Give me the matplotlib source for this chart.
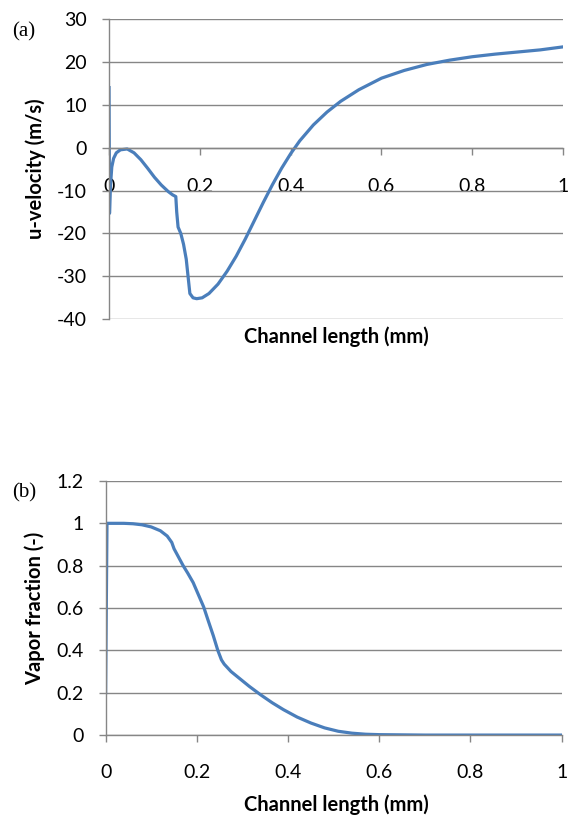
import matplotlib.pyplot as plt

plt.rcParams["axes.unicode_minus"] = False

# (a) u-velocity along channel
x_u = [0.0, 0.001, 0.003, 0.006, 0.010, 0.016, 0.025, 0.040, 0.055, 0.070,
       0.085, 0.100, 0.115, 0.130, 0.140, 0.147, 0.149, 0.152, 0.158, 0.164,
       0.170, 0.174, 0.178, 0.185, 0.193, 0.205, 0.220, 0.240, 0.260, 0.280,
       0.300, 0.320, 0.340, 0.360, 0.380, 0.400, 0.420, 0.450, 0.480, 0.510,
       0.550, 0.600, 0.650, 0.700, 0.750, 0.800, 0.850, 0.900, 0.950, 1.000]
u_vel = [14.0, -15.3, -9.0, -4.5, -2.5, -1.2, -0.5, -0.3, -1.2, -2.8,
         -4.8, -6.9, -8.7, -10.2, -11.0, -11.4, -15.0, -18.5, -20.0, -22.5,
         -26.0, -30.0, -34.0, -35.0, -35.2, -35.0, -34.0, -31.8, -28.8, -25.3,
         -21.3, -17.0, -12.7, -8.6, -4.8, -1.4, 1.6, 5.3, 8.3, 10.8,
         13.5, 16.2, 18.0, 19.4, 20.4, 21.2, 21.8, 22.3, 22.8, 23.5]

# (b) vapor fraction along channel
x_vf = [0.0, 0.003, 0.010, 0.040, 0.060, 0.080, 0.100, 0.120, 0.135, 0.145,
        0.150, 0.160, 0.170, 0.180, 0.192, 0.205, 0.215, 0.225, 0.236, 0.246,
        0.254, 0.260, 0.275, 0.295, 0.315, 0.340, 0.365, 0.390, 0.420, 0.450,
        0.480, 0.510, 0.540, 0.570, 0.600, 0.650, 0.700, 0.800, 0.900, 1.000]
v_frac = [0.20, 1.0, 1.0, 1.0, 0.998, 0.993, 0.983, 0.965, 0.940, 0.910,
          0.880, 0.840, 0.800, 0.765, 0.720, 0.655, 0.605, 0.540, 0.470, 0.400,
          0.355, 0.335, 0.300, 0.265, 0.230, 0.190, 0.153, 0.120, 0.085, 0.057,
          0.034, 0.018, 0.009, 0.004, 0.002, 0.001, 0.0, 0.0, 0.0, 0.0]

x_ticks = [0, 0.2, 0.4, 0.6, 0.8, 1]
x_ticklabels = ["0", "0.2", "0.4", "0.6", "0.8", "1"]

line_col = "#4A7EBB"
grid_col = "#868686"
txt_font = "Lato"

fig = plt.figure(figsize=(5.74, 8.25), dpi=100)

def style_axes(ax):
    for s in ["top", "right"]:
        ax.spines[s].set_visible(False)
    for s in ["left", "bottom"]:
        ax.spines[s].set_color(grid_col)
        ax.spines[s].set_linewidth(1.0)
    ax.grid(axis="y", color=grid_col, linewidth=1.0)
    ax.set_axisbelow(True)
    ax.tick_params(axis="both", colors=grid_col, labelcolor="black",
                   labelsize=14, length=5, width=1.0)
    ax.tick_params(axis="y", pad=11)
    for lab in ax.get_xticklabels() + ax.get_yticklabels():
        lab.set_fontfamily(txt_font)

# ---- panel (a)
ax1 = fig.add_axes([0.190, 0.613, 0.791, 0.364])
ax1.plot(x_u, u_vel, color=line_col, linewidth=2.3, solid_joinstyle="round")
ax1.set_xlim(0, 1)
ax1.set_ylim(-40, 30)
ax1.set_yticks(range(-40, 31, 10))
ax1.set_xticks(x_ticks)
ax1.set_xticklabels(x_ticklabels)
ax1.spines["bottom"].set_position(("data", 0))
style_axes(ax1)
ax1.tick_params(axis="x", direction="out", pad=17)
ax1.set_ylabel("u-velocity (m/s)", fontsize=14.5, fontweight="bold",
               fontfamily=txt_font)
ax1.yaxis.set_label_coords(-0.138, 0.5)
fig.text(336 / 574, 1 - 337 / 825, "Channel length (mm)", ha="center", va="center",
         fontsize=14.5, fontweight="bold", fontfamily=txt_font)
fig.text(12 / 574, 1 - 32 / 825, "(a)", fontsize=15, fontfamily="Liberation Serif",
         va="center", ha="left")

# ---- panel (b)
ax2 = fig.add_axes([0.184, 0.109, 0.7946, 0.308])
ax2.plot(x_vf, v_frac, color=line_col, linewidth=2.3, solid_joinstyle="round")
ax2.set_xlim(0, 1)
ax2.set_ylim(0, 1.2)
ax2.set_yticks([0, 0.2, 0.4, 0.6, 0.8, 1, 1.2])
ax2.set_yticklabels(["0", "0.2", "0.4", "0.6", "0.8", "1", "1.2"])
ax2.set_xticks(x_ticks)
ax2.set_xticklabels(x_ticklabels)
style_axes(ax2)
ax2.tick_params(axis="x", pad=16)
ax2.set_ylabel("Vapor fraction (-)", fontsize=14.5, fontweight="bold",
               fontfamily=txt_font)
ax2.yaxis.set_label_coords(-0.133, 0.5)
fig.text(336 / 574, 1 - 805 / 825, "Channel length (mm)", ha="center", va="center",
         fontsize=14.5, fontweight="bold", fontfamily=txt_font)
fig.text(12 / 574, 1 - 493 / 825, "(b)", fontsize=15, fontfamily="Liberation Serif",
         va="center", ha="left")

fig.savefig("out.png", dpi=100)
